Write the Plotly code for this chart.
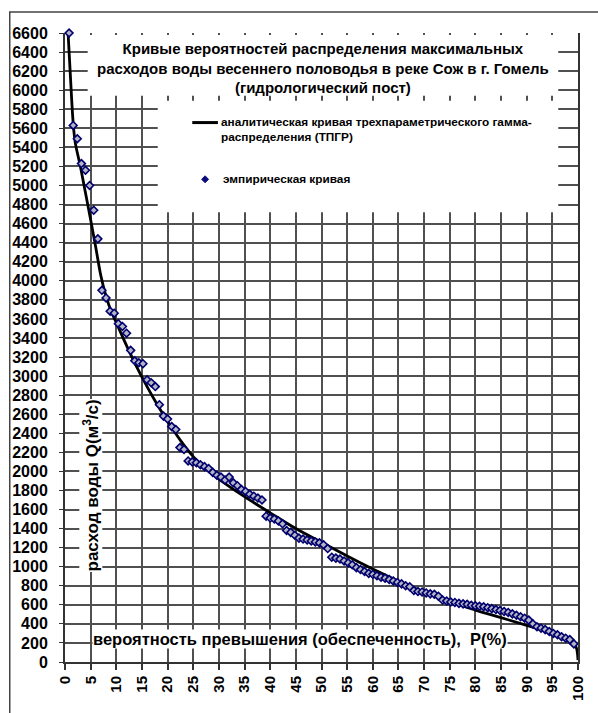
import plotly.graph_objects as go

# ---- data ----
# analytical curve (three-parameter gamma distribution), P in %, Q in m3/s
curve_p = [0.6, 1.0, 1.6, 2.0, 3.0, 4.0, 5.0, 6.0, 7.0, 8.0, 9.0, 10.0, 12.0, 14.0, 16.0, 18.0,
           20.0, 22.5, 25.0, 27.5, 30.0, 35.0, 40.0, 45.0, 50.0, 55.0, 60.0, 65.0, 70.0,
           75.0, 80.0, 85.0, 90.0, 95.0, 98.0, 99.5, 100.0]
curve_q = [6600, 6200, 5650, 5450, 5200, 4920, 4640, 4350, 4050, 3840, 3680, 3560, 3320, 3095, 2890, 2700,
           2525, 2325, 2155, 2025, 1920, 1735, 1565, 1400, 1255, 1112, 975, 848, 735,
           632, 545, 465, 385, 300, 232, 170, 20]

# empirical points (exceedance probability %, discharge)
emp_p = [0.8, 1.6, 2.4, 3.2, 4.0, 4.8, 5.6, 6.4, 7.2, 8.0, 8.8, 9.6, 10.4, 11.2, 12.0, 12.8,
         13.6, 14.4, 15.2, 16.0, 16.8, 17.6, 18.4, 19.2, 20.0, 20.8, 21.6, 22.4, 23.2, 24.0,
         24.8, 25.6, 26.4, 27.2, 28.0, 28.8, 29.6, 30.4, 31.2, 32.0, 32.8, 33.6, 34.4, 35.2,
         36.0, 36.8, 37.6, 38.4, 39.2, 40.0, 40.8, 41.6, 42.4, 43.2, 44.0, 44.8, 45.6, 46.4,
         47.2, 48.0, 48.8, 49.6, 50.4, 51.2, 52.0, 52.8, 53.6, 54.4, 55.2, 56.0, 56.8, 57.6,
         58.4, 59.2, 60.0, 60.8, 61.6, 62.4, 63.2, 64.0, 64.8, 65.6, 66.4, 67.2, 68.0, 68.8,
         69.6, 70.4, 71.2, 72.0, 72.8, 73.6, 74.4, 75.2, 76.0, 76.8, 77.6, 78.4, 79.2, 80.0,
         80.8, 81.6, 82.4, 83.2, 84.0, 84.8, 85.6, 86.4, 87.2, 88.0, 88.8, 89.6, 90.4, 91.2,
         92.0, 92.8, 93.6, 94.4, 95.2, 96.0, 96.8, 97.6, 98.4, 99.2]
emp_q = [6600, 5630, 5490, 5230, 5160, 5000, 4740, 4440, 3900, 3820, 3680, 3660, 3550, 3520, 3450, 3270,
         3160, 3140, 3130, 2960, 2930, 2890, 2700, 2580, 2550, 2470, 2440, 2250, 2230, 2110,
         2100, 2090, 2070, 2050, 2030, 1990, 1960, 1940, 1910, 1940, 1880, 1850, 1810, 1790,
         1760, 1740, 1720, 1700, 1530, 1510, 1500, 1480, 1450, 1380, 1360, 1330, 1300, 1290,
         1280, 1270, 1260, 1250, 1230, 1190, 1100, 1090, 1080, 1060, 1040, 1020, 990, 970,
         950, 930, 920, 905, 890, 880, 865, 850, 835, 820, 800, 790, 750, 740,
         735, 725, 715, 710, 690, 650, 640, 630, 625, 615, 610, 605, 595, 590,
         585, 580, 570, 560, 550, 540, 530, 520, 505, 490, 475, 460, 440, 400,
         370, 355, 340, 320, 300, 285, 265, 250, 235, 190]

x_ticks = list(range(0, 101, 5))
y_ticks = list(range(0, 6601, 200))

title_text = ("Кривые вероятностей распределения максимальных<br>"
              "расходов воды весеннего половодья в реке Сож в г. Гомель<br>"
              "(гидрологический пост)")
legend_line_text = "аналитическая кривая трехпараметрического гамма-<br>распределения (ТПГР)"
legend_marker_text = "эмпирическая кривая"
x_title = "вероятность превышения (обеспеченность),  P(%)"
y_title = "расход воды Q(м<sup>3</sup>/с)"

FONT = "Arial, Liberation Sans, sans-serif"
W, H = 598, 713
L, R, T, B = 63, 15, 33, 48
PW, PH = W - L - R, H - T - B


def px(xp):
    return (xp - L) / PW


def py(yp):
    return (H - B - yp) / PH


fig = go.Figure()
fig.add_trace(go.Scatter(
    x=curve_p, y=curve_q, mode="lines", line=dict(color="black", width=2.8, shape="spline"),
    showlegend=False, hoverinfo="skip"))
fig.add_trace(go.Scatter(
    x=emp_p, y=emp_q, mode="markers", cliponaxis=False,
    marker=dict(symbol="diamond", size=6, color="#b4b4c4",
                line=dict(color="#00006e", width=1.6)),
    showlegend=False, hoverinfo="skip"))

shapes = [
    # white boxes of title and legend
    dict(type="rect", xref="paper", yref="paper", x0=px(86), x1=px(563), y0=py(96), y1=py(35),
         fillcolor="white", line=dict(width=0), layer="above"),
    dict(type="rect", xref="paper", yref="paper", x0=px(157), x1=px(563), y0=py(213), y1=py(101),
         fillcolor="white", line=dict(width=0), layer="above"),
    # legend symbols
    dict(type="line", xref="paper", yref="paper", x0=px(192), x1=px(218), y0=py(123), y1=py(123),
         line=dict(color="black", width=3), layer="above"),
    dict(type="path", xref="paper", yref="paper",
         path=f"M {px(201.5)} {py(180)} L {px(205)} {py(176.5)} L {px(208.5)} {py(180)} L {px(205)} {py(183.5)} Z",
         fillcolor="#0a0a80", line=dict(color="#0a0a80", width=1), layer="above"),
    # outer chart frame
    dict(type="rect", xref="paper", yref="paper", x0=px(7), x1=px(640), y0=py(760), y1=py(12),
         fillcolor="rgba(0,0,0,0)", line=dict(color="#444", width=1.5), layer="above"),
]

annotations = [
    dict(text=title_text, xref="paper", yref="paper", x=px(325), y=py(68.5), showarrow=False,
         xanchor="center", yanchor="middle", align="center",
         font=dict(family=FONT, size=15, color="black", weight="bold")),
    dict(text=legend_line_text, xref="paper", yref="paper", x=px(219), y=py(130), showarrow=False,
         xanchor="left", yanchor="middle", align="left",
         font=dict(family=FONT, size=11.8, color="black", weight="bold")),
    dict(text=legend_marker_text, xref="paper", yref="paper", x=px(221), y=py(180), showarrow=False,
         xanchor="left", yanchor="middle", align="left",
         font=dict(family=FONT, size=11.8, color="black", weight="bold")),
    dict(text=x_title, xref="paper", yref="paper", x=px(301.5), y=py(642), showarrow=False,
         xanchor="center", yanchor="middle", bgcolor="white", borderpad=0,
         font=dict(family=FONT, size=16.5, color="black", weight="bold")),
    dict(text=y_title, xref="paper", yref="paper", x=px(89), y=py(488), showarrow=False,
         textangle=-90, xanchor="center", yanchor="middle", bgcolor="white", borderpad=0,
         font=dict(family=FONT, size=17, color="black", weight="bold")),
]

fig.update_layout(
    width=W, height=H, autosize=False,
    margin=dict(l=L, r=R, t=T, b=B, pad=0),
    paper_bgcolor="white", plot_bgcolor="white",
    shapes=shapes, annotations=annotations, showlegend=False,
    xaxis=dict(range=[0, 100], tickmode="array", tickvals=x_ticks, ticktext=[str(v) for v in x_ticks],
               tickangle=-90, tickfont=dict(family=FONT, size=15, color="black", weight="bold"),
               showgrid=True, gridcolor="#505050", gridwidth=1.7, zeroline=False,
               showline=True, linecolor="#333", linewidth=2, ticks="outside", ticklen=6,
               tickcolor="#333", tickwidth=1.5, fixedrange=True),
    yaxis=dict(range=[0, 6600], tickmode="array", tickvals=y_ticks, ticktext=[str(v) for v in y_ticks],
               tickfont=dict(family=FONT, size=16, color="black", weight="bold"),
               showgrid=True, gridcolor="#505050", gridwidth=1.7, zeroline=False,
               showline=True, mirror=True, linecolor="#333", linewidth=2,
               ticks="outside", ticklen=4, tickcolor="#333", ticklabelstandoff=8, fixedrange=True),
)

fig.write_html("out.html", config={"displayModeBar": False},
               post_script="document.body.style.margin='0';document.body.style.overflow='hidden';")
